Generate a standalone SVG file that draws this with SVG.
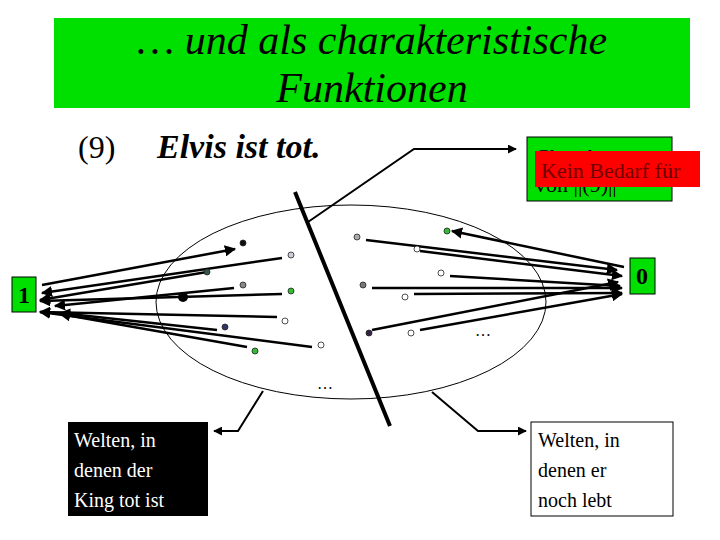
<svg xmlns="http://www.w3.org/2000/svg" width="720" height="540" viewBox="0 0 720 540">
<defs>
<marker id="ah" viewBox="0 0 10 10" refX="9" refY="5" markerWidth="4.5" markerHeight="4.5" orient="auto"><path d="M0,0L10,5L0,10z" fill="#000"/></marker>
<style>
.t{font-family:"Liberation Serif",serif;}
.a{stroke:#000;stroke-width:2.5;fill:none;marker-end:url(#ah);}
.c{stroke:#000;stroke-width:2;fill:none;}
.d{stroke:#222;stroke-width:0.8;}
</style>
</defs>
<rect width="720" height="540" fill="#fff"/>
<g id="title">
<rect x="54" y="18" width="636" height="90" fill="#00e000"/>
<text class="t" x="372" y="54" font-size="42" font-style="italic" text-anchor="middle">… und als charakteristische</text>
<text class="t" x="372" y="102" font-size="42" font-style="italic" text-anchor="middle">Funktionen</text>
</g>
<g id="sentence">
<text class="t" x="78" y="158" font-size="32">(9)</text>
<text class="t" x="157" y="158" font-size="34" font-weight="bold" font-style="italic">Elvis ist tot.</text>
</g>
<g id="info">
<rect x="527" y="137" width="145" height="64" fill="#00e000" stroke="#000" stroke-width="1"/>
<text class="t" x="535" y="164" font-size="22">Charakt…</text>
<text class="t" x="535" y="192" font-size="22">von ||(9)||</text>
<rect x="535" y="151" width="165" height="36" fill="#ff0000"/>
<text class="t" x="541" y="178" font-size="22" fill="#700000">Kein Bedarf für</text>
</g>
<g id="one"><rect x="12" y="277" width="24" height="35" fill="#00e000" stroke="#000"/><text class="t" x="24" y="303" font-size="24" font-weight="bold" text-anchor="middle">1</text></g>
<g id="zero"><rect x="630" y="258" width="25" height="36" fill="#00e000" stroke="#000"/><text class="t" x="642" y="284" font-size="24" font-weight="bold" text-anchor="middle">0</text></g>
<g id="worlds"><ellipse cx="351" cy="302" rx="195" ry="97" fill="none" stroke="#000" stroke-width="1"/></g>
<g id="left-box"><rect x="68" y="422" width="140" height="94" fill="#000"/>
<text class="t" x="74" y="447" font-size="20" fill="#fff">Welten, in</text>
<text class="t" x="74" y="477" font-size="20" fill="#fff">denen der</text>
<text class="t" x="74" y="507" font-size="20" fill="#fff">King tot ist</text></g>
<g id="right-box"><rect x="531" y="422" width="142" height="94" fill="#fff" stroke="#000"/>
<text class="t" x="538" y="447" font-size="20">Welten, in</text>
<text class="t" x="538" y="477" font-size="20">denen er</text>
<text class="t" x="538" y="507" font-size="20">noch lebt</text></g>
<g id="connectors">
<line x1="295" y1="192" x2="390" y2="426" stroke="#000" stroke-width="4"/>
<polyline class="c" points="308,222 414,149 516,149" marker-end="url(#ah)"/>
<polyline class="c" points="263,391 238,431 214,431" marker-end="url(#ah)"/>
<polyline class="c" points="432,392 478,431 526,431" marker-end="url(#ah)"/>
<line class="a" x1="42" y1="285" x2="235" y2="249"/>
<line class="a" x1="282" y1="258" x2="42" y2="293"/>
<line class="a" x1="207" y1="272" x2="40" y2="300"/>
<line class="a" x1="234" y1="288" x2="55" y2="306"/>
<line class="a" x1="282" y1="294" x2="40" y2="301"/>
<line class="a" x1="277" y1="317" x2="40" y2="312"/>
<line class="a" x1="217" y1="330" x2="60" y2="313"/>
<line class="a" x1="312" y1="347" x2="40" y2="312"/>
<line class="a" x1="247" y1="347" x2="60" y2="314"/>
<line class="a" x1="624" y1="267" x2="452" y2="231"/>
<line class="a" x1="366" y1="240" x2="617" y2="270"/>
<line class="a" x1="420" y1="251" x2="622" y2="276"/>
<line class="a" x1="450" y1="276" x2="620" y2="286"/>
<line class="a" x1="372" y1="288" x2="622" y2="288"/>
<line class="a" x1="414" y1="294" x2="622" y2="293"/>
<line class="a" x1="372" y1="330" x2="618" y2="282"/>
<line class="a" x1="420" y1="330" x2="622" y2="294"/>
</g>
<g id="dots">
<circle class="d" cx="243" cy="243" r="3" fill="#111"/>
<circle class="d" cx="291" cy="255" r="3" fill="#ccd"/>
<circle class="d" cx="207" cy="272" r="3" fill="#354"/>
<circle class="d" cx="243" cy="285" r="3" fill="#888"/>
<circle class="d" cx="291" cy="291" r="3" fill="#3b3"/>
<circle cx="183" cy="297" r="5" fill="#000"/>
<circle class="d" cx="285" cy="321" r="3" fill="#fff"/>
<circle class="d" cx="225" cy="327" r="3" fill="#336"/>
<circle class="d" cx="255" cy="351" r="3" fill="#3b3"/>
<circle class="d" cx="321" cy="345" r="3" fill="#fff"/>
<circle class="d" cx="447" cy="231" r="3" fill="#3b3"/>
<circle class="d" cx="357" cy="237" r="3" fill="#aaa"/>
<circle class="d" cx="417" cy="249" r="3" fill="#fff"/>
<circle class="d" cx="441" cy="273" r="3" fill="#fff"/>
<circle class="d" cx="363" cy="285" r="3" fill="#777"/>
<circle class="d" cx="405" cy="297" r="3" fill="#fff"/>
<circle class="d" cx="369" cy="333" r="3" fill="#324"/>
<circle class="d" cx="411" cy="333" r="3" fill="#fff"/>
<text class="t" x="483" y="336" font-size="16" text-anchor="middle">…</text>
<text class="t" x="325" y="389" font-size="16" text-anchor="middle">…</text>
</g>
</svg>
